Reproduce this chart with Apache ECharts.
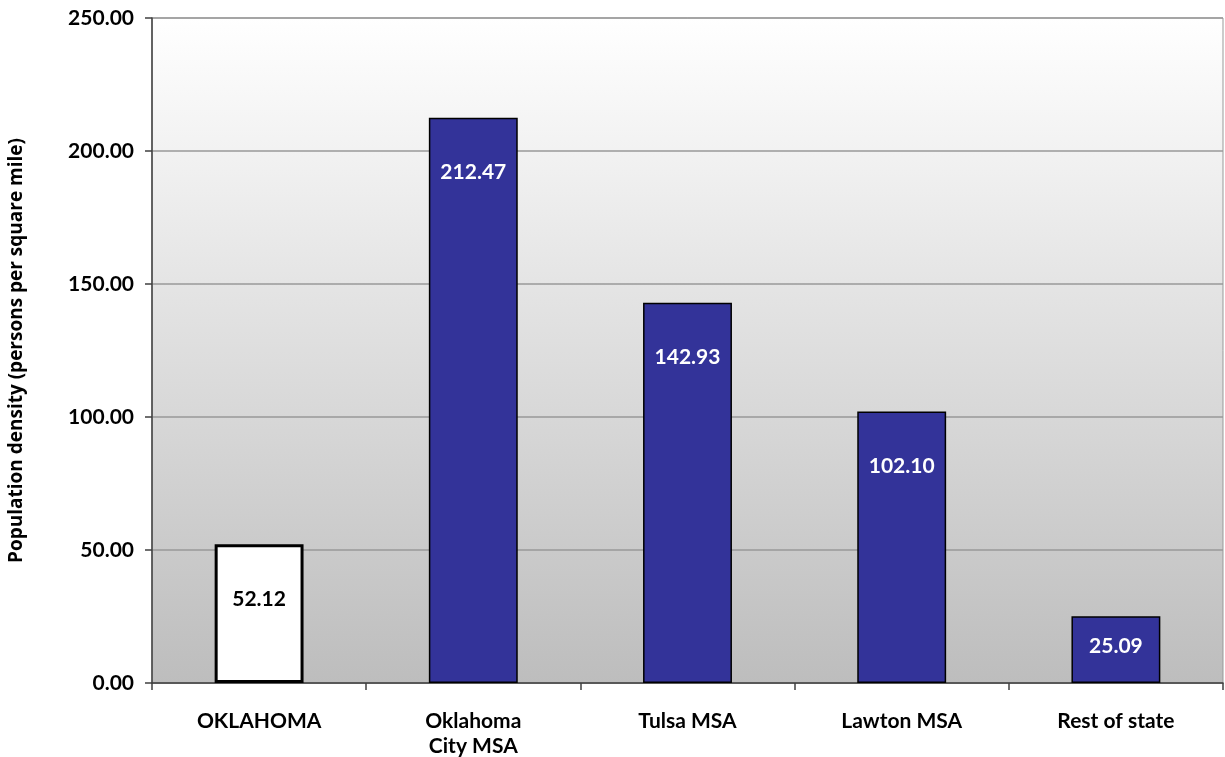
<!DOCTYPE html>
<html>
<head>
<meta charset="utf-8">
<title>Population density</title>
<script src="https://cdn.jsdelivr.net/npm/echarts@6/dist/echarts.min.js"></script>
<style>
  html, body { margin: 0; padding: 0; background: #ffffff; }
  #chart { width: 1225px; height: 757px; }
</style>
</head>
<body>
<div id="chart"></div>
<script>
// Population density by area (persons per square mile)
const categories = ['OKLAHOMA', 'Oklahoma\nCity MSA', 'Tulsa MSA', 'Lawton MSA', 'Rest of state'];
const densities = [52.12, 212.47, 142.93, 102.10, 25.09];
const yTicks = { min: 0, max: 250, interval: 50 };

const GRID = { left: 152, right: 2, top: 18, bottom: 74 };
const plotHeight = 757 - GRID.top - GRID.bottom;
const FONT = 'Lato, "Open Sans", sans-serif';

// Tall bars carry their value near the top; short bars carry it centred.
function labelFor(value, isState) {
  const h = value / yTicks.max * plotHeight;
  const roomy = h > 120;
  return {
    show: true,
    position: roomy ? 'insideTop' : 'inside',
    distance: 44,
    offset: roomy ? [0, 0] : [0, -3],
    color: isState ? '#000000' : '#ffffff',
    fontFamily: FONT,
    fontWeight: 'bold',
    fontSize: 21,
    formatter: p => p.value.toFixed(2)
  };
}

const barData = densities.map((v, i) => {
  const isState = i === 0;
  return {
    value: v,
    itemStyle: isState
      ? { color: '#ffffff', borderColor: '#000000', borderWidth: 3 }
      : { color: '#333399', borderColor: '#000000', borderWidth: 1.5 },
    label: labelFor(v, isState)
  };
});

const chart = echarts.init(document.getElementById('chart'), null, { renderer: 'canvas' });
chart.setOption({
  animation: false,
  backgroundColor: '#ffffff',
  grid: {
    left: GRID.left, right: GRID.right, top: GRID.top, bottom: GRID.bottom,
    containLabel: false,
    outerBoundsMode: 'none',
    show: true,
    borderColor: '#999999',
    borderWidth: 1,
    backgroundColor: new echarts.graphic.LinearGradient(0, 0, 0, 1, [
      { offset: 0, color: '#ffffff' },
      { offset: 1, color: '#bdbdbd' }
    ])
  },
  xAxis: {
    type: 'category',
    data: categories,
    axisLine: { show: true, lineStyle: { color: '#404040', width: 1.5 } },
    axisTick: { show: true, length: 7, alignWithLabel: false, lineStyle: { color: '#404040', width: 1.5 } },
    axisLabel: {
      interval: 0,
      margin: 26,
      color: '#000000',
      fontFamily: FONT,
      fontWeight: 'bold',
      fontSize: 21,
      lineHeight: 25
    }
  },
  yAxis: {
    type: 'value',
    min: yTicks.min,
    max: yTicks.max,
    interval: yTicks.interval,
    name: 'Population density (persons per square mile)',
    nameLocation: 'middle',
    nameGap: 126,
    nameRotate: 90,
    nameTextStyle: {
      color: '#000000',
      fontFamily: '"Open Sans", sans-serif',
      fontWeight: 'bold',
      fontSize: 19
    },
    axisLine: { show: true, lineStyle: { color: '#404040', width: 1.5 } },
    axisTick: { show: true, inside: false, length: 7, lineStyle: { color: '#404040', width: 1.5 } },
    axisLabel: {
      margin: 18,
      color: '#000000',
      fontFamily: FONT,
      fontWeight: 'bold',
      fontSize: 21,
      formatter: v => v.toFixed(2)
    },
    splitLine: { show: true, lineStyle: { color: '#999999', width: 1.5 } }
  },
  series: [{
    type: 'bar',
    data: barData,
    barWidth: '41.5%'
  }]
});
</script>
</body>
</html>
